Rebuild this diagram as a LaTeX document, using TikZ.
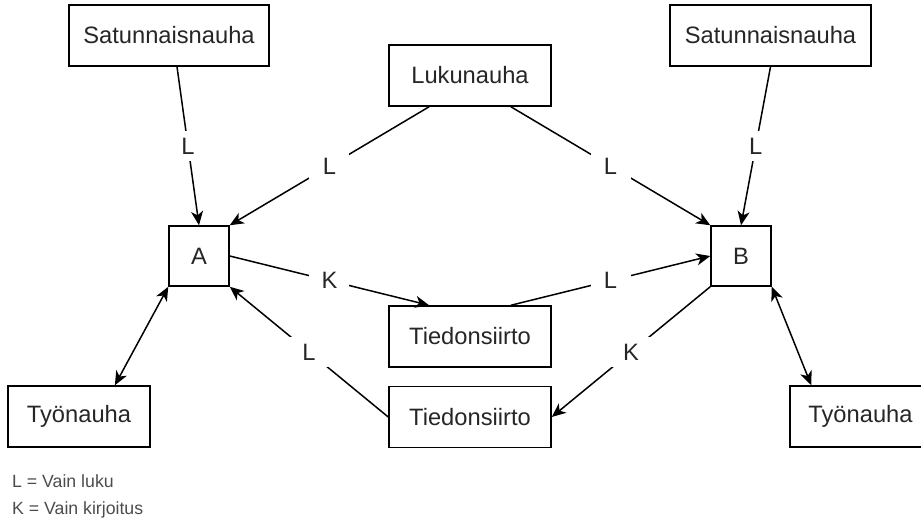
\documentclass[tikz,border=0pt]{standalone}
\usepackage{fontspec}
\setmainfont{Liberation Sans}
\usetikzlibrary{arrows.meta,calc}

\begin{document}
\begin{tikzpicture}[x=1pt,y=-1pt,
        >={Stealth[length=14pt,width=12pt,inset=4pt]},
        box/.style={draw,line width=1.5pt,minimum height=61pt,inner sep=0pt,
            text=black!85,font=\fontsize{23.7}{28}\selectfont},
        lbl/.style={fill=white,inner sep=0pt,minimum width=40pt,minimum height=30pt,
            text=black!85,font=\fontsize{23.7}{28}\selectfont},
        conn/.style={line width=1.5pt,->},
        biconn/.style={line width=1.5pt,<->},
        legend/.style={anchor=west,inner sep=0pt,text=black!70,
            font=\fontsize{17.7}{21}\selectfont}]
            \useasboundingbox (0,0) rectangle (921,522);
            % nauhat
            \node[box,minimum width=200pt] (satA) at (169,35.5) {Satunnaisnauha};
            \node[box,minimum width=201pt] (satB) at (770.5,35.5) {Satunnaisnauha};
            \node[box,minimum width=162pt] (luku) at (470,75.5) {Lukunauha};
            \node[box,minimum width=142pt] (tyoA) at (79,416.5) {Työnauha};
            \node[box,minimum width=141pt] (tyoB) at (860.5,416.5) {Työnauha};
            % koneet
            \node[box,minimum width=60pt,minimum height=60pt] (A) at (199,256) {A};
            \node[box,minimum width=60pt,minimum height=60pt] (B) at (741,256) {B};
            % siirrot
            \node[box,minimum width=162pt] (tiedAB) at (470,336.5) {Tiedonsiirto};
            \node[box,minimum width=162pt] (tiedBA) at (470,417) {Tiedonsiirto};
            \draw[conn] ([xshift=8pt]satA.south) -- node[lbl] {L} (A.north);
            \draw[conn] (satB.south) -- node[lbl] {L} (B.north);
            \draw[conn] ($(luku.south west)!0.25!(luku.south east)$) -- node[lbl] {L} (A.north east);
            \draw[conn] ($(luku.south west)!0.75!(luku.south east)$) -- node[lbl] {L} (B.north west);
            \draw[conn] (A.east) -- node[lbl] {K} ($(tiedAB.north west)!0.25!(tiedAB.north east)$);
            \draw[conn] ($(tiedAB.north west)!0.75!(tiedAB.north east)$) -- node[lbl] {L} (B.west);
            \draw[conn] (B.south west) -- node[lbl] {K} (tiedBA.east);
            \draw[conn] (tiedBA.west) -- node[lbl] {L} (A.south east);
            \draw[biconn] (A.south west) -- ($(tyoA.north west)!0.75!(tyoA.north east)$);
            \draw[biconn] (B.south east) -- ([xshift=22pt]tyoB.north west);
            % selite
            \node[legend] (selL) at (12,481) {L = Vain luku};
            \node[legend] (selK) at (12,510) {K = Vain kirjoitus};
        \end{tikzpicture}
\end{document}
